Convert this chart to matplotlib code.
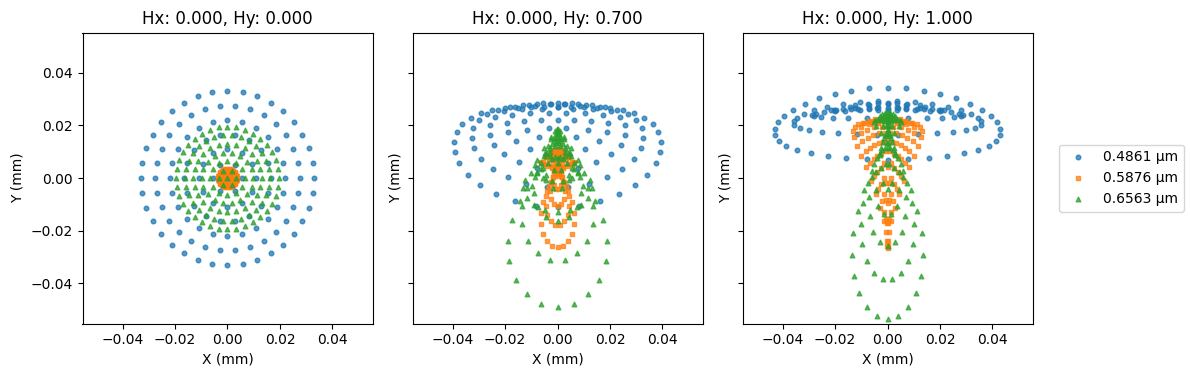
import numpy as np
import matplotlib
matplotlib.use("Agg")
import matplotlib.pyplot as plt

# ---- chart data ----
wavelength_labels = ["0.4861 µm", "0.5876 µm", "0.6563 µm"]
field_hx = [0.0, 0.0, 0.0]
field_hy = [0.0, 0.7, 1.0]
pupil_rings = 6  # hexapolar pupil sampling, 6k rays on ring k

# transverse ray-aberration coefficients (mm), one row per field, one column per wavelength
# x = px*(ax + bx*py + sx*r2) ;  y = y0 + ay*py + cx*px^2 + cy*py^2 + sy*py*r2
chief_y = [[0.0, 0.0, 0.0], [0.0222, 0.008, 0.017], [0.028, 0.014, 0.0116]]
defocus_x = [[0.033, 0.0035, 0.0195], [0.0385, 0.0, 0.0042], [0.043, 0.010, 0.006]]
defocus_y = [[0.033, 0.0035, 0.0195], [0.019, 0.0152, 0.018], [-0.0057, 0.024, 0.038]]
coma_x = [[0.0, 0.0, 0.0], [-0.0095, -0.0128, -0.032], [-0.003, 0.010, -0.018]]
curv_x = [[0.0, 0.0, 0.0], [-0.00475, -0.0064, -0.016], [-0.0093, -0.0055, -0.009]]
curv_y = [[0.0, 0.0, 0.0], [-0.01425, -0.0192, -0.048], [-0.0074, -0.0165, -0.027]]
sph_x = [[0.0, 0.0, 0.0], [0.0, 0.0, 0.0], [0.0, 0.0, 0.0]]
sph_y = [[0.0, 0.0, 0.0], [0.0, 0.0, 0.0], [0.0194, 0.0, 0.0]]

colors = ["#1f77b4", "#ff7f0e", "#2ca02c"]
markers = ["o", "s", "^"]


def pupil():
    px, py = [0.0], [0.0]
    for k in range(1, pupil_rings + 1):
        n = 6 * k
        t = 2 * np.pi * np.arange(n) / n
        r = k / pupil_rings
        px.extend(r * np.cos(t))
        py.extend(r * np.sin(t))
    return np.array(px), np.array(py)


PX, PY = pupil()
R2 = PX ** 2 + PY ** 2

fig = plt.figure(figsize=(11.9, 3.76), dpi=100)
lefts = [82.5, 412.5, 742.5]
axes = []
for i, l in enumerate(lefts):
    ax = fig.add_axes([l / 1190, (376 - 323.5) / 376, 290 / 1190, 291 / 376],
                      sharey=axes[0] if axes else None)
    axes.append(ax)

handles = []
for i, ax in enumerate(axes):
    for j in range(3):
        x = PX * (defocus_x[i][j] + coma_x[i][j] * PY + sph_x[i][j] * R2)
        y = (chief_y[i][j] + defocus_y[i][j] * PY + curv_x[i][j] * PX ** 2
             + curv_y[i][j] * PY ** 2 + sph_y[i][j] * PY * R2)
        h = ax.scatter(x, y, s=11, c=colors[j], marker=markers[j], alpha=0.75,
                       label=wavelength_labels[j])
        if i == 0:
            handles.append(h)
    ax.set_xlim(-0.0553, 0.0553)
    ax.set_ylim(-0.0553, 0.0553)
    ax.set_xticks([-0.04, -0.02, 0.0, 0.02, 0.04])
    ax.set_yticks([-0.04, -0.02, 0.0, 0.02, 0.04])
    ax.set_title(f"Hx: {field_hx[i]:.3f}, Hy: {field_hy[i]:.3f}", fontsize=12)
    ax.set_xlabel("X (mm)")
    ax.set_ylabel("Y (mm)")
    if i > 0:
        ax.tick_params(labelleft=False)

fig.legend(handles=handles, loc="center left",
           bbox_to_anchor=(1052 / 1190, (376 - 178) / 376), frameon=True)
fig.savefig("out.png", dpi=100)
